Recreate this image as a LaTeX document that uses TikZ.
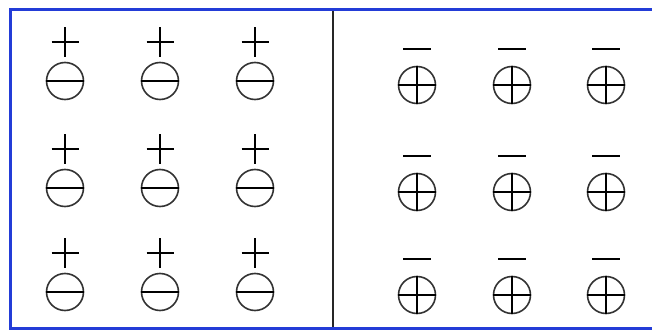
\documentclass[tikz,border=0pt]{standalone}
\usetikzlibrary{calc}

\definecolor{framblue}{RGB}{35,60,215}

\begin{document}
\begin{tikzpicture}[
    x=1pt, y=-1pt,
    % Styles
    frame/.style={draw=framblue, line width=3pt},
    divider/.style={draw=black!85, line width=1.8pt},
    ion/.style={circle, draw=black!80, line width=1.6pt, minimum size=37pt, inner sep=0pt},
    sign/.style={draw=black, line width=1.9pt}
    ]

    \useasboundingbox[fill=white] (0,0) rectangle (652,331);

    % Outer frame (right side runs off the picture)
    \coordinate (fr-tr) at (654,9.5);
    \coordinate (fr-tl) at (10,9.5);
    \coordinate (fr-bl) at (10,328.5);
    \coordinate (fr-br) at (654,328.5);
    \draw[frame] (fr-tr) -- (fr-tl) -- (fr-bl) -- (fr-br);

    % Divider between the two halves
    \coordinate (div-top) at (333,11);
    \coordinate (div-bot) at (333,327);
    \draw[divider] (div-top) -- (div-bot);

    % Left half: + above a negative ion
    \foreach \r/\cy in {1/81,2/188,3/292} {
        \foreach \c/\cx in {1/65,2/160,3/255} {
            \node[ion] (neg-\r-\c) at (\cx,\cy) {};
            \draw[sign] (neg-\r-\c.west) -- (neg-\r-\c.east);
            \coordinate (plus-\r-\c) at ($(neg-\r-\c.north)+(0,-20)$);
            \draw[sign] ($(plus-\r-\c)+(-13.5,0)$) -- ($(plus-\r-\c)+(13.5,0)$);
            \draw[sign] ($(plus-\r-\c)+(0,-14.5)$) -- ($(plus-\r-\c)+(0,15)$);
        }
    }

    % Right half: - above a positive ion
    \foreach \r/\cy in {1/85,2/192,3/295} {
        \foreach \c/\cx in {1/417,2/512,3/606} {
            \node[ion] (pos-\r-\c) at (\cx,\cy) {};
            \draw[sign] (pos-\r-\c.west) -- (pos-\r-\c.east);
            \draw[sign] (pos-\r-\c.north) -- (pos-\r-\c.south);
            \coordinate (minus-\r-\c) at ($(pos-\r-\c.north)+(0,-17)$);
            \draw[sign] ($(minus-\r-\c)+(-14,0)$) -- ($(minus-\r-\c)+(14,0)$);
        }
    }
\end{tikzpicture}
\end{document}
